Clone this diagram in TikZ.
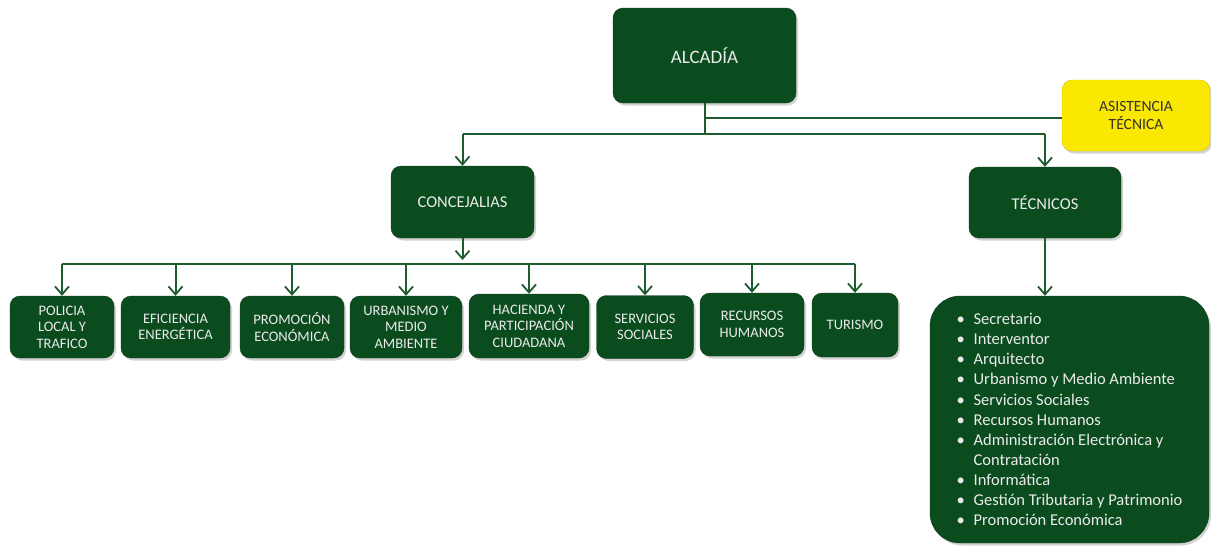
\documentclass[tikz,border=0pt]{standalone}
\usepackage{fontspec}
\setmainfont{Carlito}
\usetikzlibrary{shadows}
\usetikzlibrary{arrows.meta}

\definecolor{boxgreen}{RGB}{11,76,31}
\definecolor{linegreen}{RGB}{30,92,48}
\definecolor{asisyellow}{RGB}{250,232,0}

\begin{document}
\begin{tikzpicture}[x=1pt, y=-1pt,
	>={Straight Barb[length=8pt,width=14pt,line width=1.8pt]},
	box/.style={rounded corners=10pt, fill=boxgreen, draw=boxgreen!80!black, text=white!92!black, align=center, inner sep=0pt, drop shadow={opacity=0.35, shadow xshift=2pt, shadow yshift=-2.5pt}},
	small/.style={box, font=\fontsize{14.5}{16.5}\selectfont},
	conn/.style={draw=linegreen, line width=2pt}]
				
				\useasboundingbox (0,0) rectangle (1211,546);
				
				\node[box, minimum width=183pt, minimum height=95pt, font=\fontsize{19}{22}\selectfont] (ALC) at (704.5,55.5) {ALCADÍA};
				\node[box, fill=asisyellow, draw=asisyellow!85!black, text=black!80, minimum width=148pt, minimum height=71pt, font=\fontsize{15.6}{18.5}\selectfont] (AT) at (1136,115.5) {ASISTENCIA\\TÉCNICA};
				
				\node[box, minimum width=143pt, minimum height=72pt, font=\fontsize{16.5}{20}\selectfont] (CON) at (462.5,202) {CONCEJALIAS};
				\node[box, minimum width=152pt, minimum height=71pt, font=\fontsize{16.5}{20}\selectfont] (TEC) at (1045,202.5) {TÉCNICOS};
				
				\node[small, minimum width=104pt, minimum height=62pt] (C1) at (62,327) {POLICIA\\LOCAL Y\\TRAFICO};
				\node[small, minimum width=109pt, minimum height=62pt] (C2) at (175.5,327) {EFICIENCIA\\ENERGÉTICA};
				\node[small, minimum width=104pt, minimum height=62pt] (C3) at (292,327) {PROMOCIÓN\\ECONÓMICA};
				\node[small, minimum width=112pt, minimum height=62pt] (C4) at (406,327) {URBANISMO Y\\MEDIO\\AMBIENTE};
				\node[small, minimum width=120pt, minimum height=64pt] (C5) at (529,326) {HACIENDA Y\\PARTICIPACIÓN\\CIUDADANA};
				\node[small, minimum width=97pt, minimum height=63pt] (C6) at (645,327) {SERVICIOS\\SOCIALES};
				\node[small, minimum width=104pt, minimum height=63pt] (C7) at (752,324.5) {RECURSOS\\HUMANOS};
				\node[small, minimum width=86pt, minimum height=64pt] (C8) at (855,325) {TURISMO};
				
				\node[box, rounded corners=30pt, align=left, minimum width=279pt, minimum height=247pt, font=\fontsize{16.5}{20.1}\selectfont] (LST) at (1069.5,419.5) {%
					\makebox[17pt][l]{\textbullet}Secretario\\
					\makebox[17pt][l]{\textbullet}Interventor\\
					\makebox[17pt][l]{\textbullet}Arquitecto\\
					\makebox[17pt][l]{\textbullet}Urbanismo y Medio Ambiente\\
					\makebox[17pt][l]{\textbullet}Servicios Sociales\\
					\makebox[17pt][l]{\textbullet}Recursos Humanos\\
					\makebox[17pt][l]{\textbullet}Administración Electrónica y\\
					\hspace*{17pt}Contratación\\
					\makebox[17pt][l]{\textbullet}Informática\\
					\makebox[17pt][l]{\textbullet}Gestión Tributaria y Patrimonio\\
					\makebox[17pt][l]{\textbullet}Promoción Económica};
				
				% alcaldia -> asistencia, concejalias, tecnicos
				\coordinate (J0) at (ALC.south |- 0,118);
				\coordinate (J1) at (ALC.south |- 0,134);
				\draw[conn] (ALC.south) -- (J1);
				\draw[conn] (J0) -- (J0 -| AT.west);
				\draw[conn] (CON.north |- J1) -- (TEC.north |- J1);
				\draw[conn,->] (CON.north |- J1) -- (CON.north);
				\draw[conn,->] (TEC.north |- J1) -- (TEC.north);
				
				% concejalias -> areas
				\coordinate (B0) at (C1.north |- 0,264);
				\coordinate (B1) at (C8.north |- 0,264);
				\draw[conn] (B0) -- (B1);
				\draw[conn,->] (CON.south) -- ([yshift=4pt]CON.south |- B0);
				\foreach \c in {C1,C2,C3,C4,C5,C6,C7,C8}
					\draw[conn,->] (\c.north |- B0) -- (\c.north);
				
				% tecnicos -> lista
				\draw[conn,->] (TEC.south) -- (TEC.south |- LST.north);
				
			\end{tikzpicture}
\end{document}
